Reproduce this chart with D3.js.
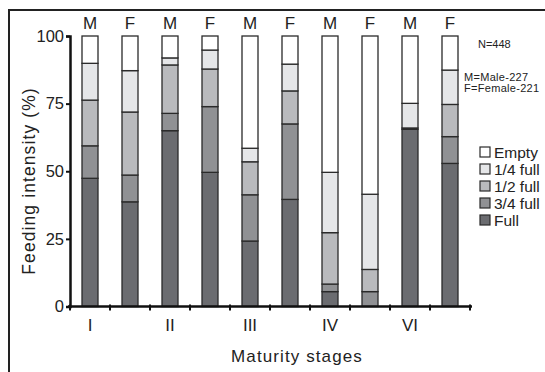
<!DOCTYPE html>
<html><head><meta charset="utf-8">
<script src="https://cdn.jsdelivr.net/npm/d3@7"></script>
<style>body{margin:0;background:#fff}svg{display:block;font-family:Arial,"Liberation Sans",sans-serif}</style>
</head><body><svg id="c" width="545" height="372"></svg>
<script>
const bars = ["I-M","I-F","II-M","II-F","III-M","III-F","IV-M","IV-F","VI-M","VI-F"];
const sexLabels = ["M","F","M","F","M","F","M","F","M","F"];
const stageLabels = ["I","","II","","III","","IV","","VI",""];
const categories = ["Full","3/4 full","1/2 full","1/4 full","Empty"];
const full     = [47.4, 38.7, 65.0, 49.6, 24.2, 39.6, 5.5, 0.0, 65.5, 52.9];
const threeQ   = [12.0,  9.9,  6.4, 24.3, 17.1, 27.9, 2.8, 5.5,  0.5,  9.9];
const half     = [16.9, 23.3, 17.9, 13.9, 12.2, 12.2, 19.0, 8.2, 0.0, 11.9];
const quarter  = [13.6, 15.3,  2.6,  7.0,  5.0,  9.9, 22.3, 27.8, 9.1, 12.7];
const empty    = [10.1, 12.8,  8.1,  5.2, 41.5, 10.4, 50.4, 58.5, 24.9, 12.6];
const yTicks = [0, 25, 50, 75, 100];
const colors = ["#6b6c70","#909194","#b9babd","#e5e6e8","#ffffff"];
const legendOrder = ["Empty","1/4 full","1/2 full","3/4 full","Full"];

const svg = d3.select("#c");
const series = [full, threeQ, half, quarter, empty];
const rows = bars.map((b,i)=>{const o={bar:b}; categories.forEach((c,k)=>o[c]=series[k][i]); return o;});
const stack = d3.stack().keys(categories)(rows);

const x = d3.scaleBand().domain(bars).range([70,470]);
const y = d3.scaleLinear().domain([0,100]).range([306.5,36]);
const color = d3.scaleOrdinal().domain(categories).range(colors);
const bw = 16;

// frame
svg.append("path").attr("d","M9,372 V10 H545").attr("fill","none").attr("stroke","#222").attr("stroke-width",2);

// bars
svg.append("g").selectAll("g").data(stack).join("g")
  .attr("fill",d=>color(d.key))
  .selectAll("rect").data(d=>d).join("rect")
  .attr("x",d=>x(d.data.bar)+x.bandwidth()/2-bw/2)
  .attr("width",bw)
  .attr("y",d=>y(d[1]))
  .attr("height",d=>y(d[0])-y(d[1]))
  .attr("stroke","#2a2a2a").attr("stroke-width",1.3);

// y axis
const ya = svg.append("g").attr("transform","translate(70,0)")
  .call(d3.axisLeft(y).tickValues(yTicks).tickSize(4).tickPadding(2));
ya.select(".domain").attr("stroke","#111").attr("stroke-width",2.5);
ya.selectAll(".tick line").attr("stroke","#111").attr("stroke-width",2);
ya.selectAll("text").attr("font-size",16.5).attr("fill","#222").attr("font-family","Arial,'Liberation Sans',sans-serif");

// x axis line with ticks at band edges
const xa = svg.append("g");
xa.append("line").attr("x1",68).attr("x2",472).attr("y1",y(0)).attr("y2",y(0)).attr("stroke","#111").attr("stroke-width",2.5);
const edges = bars.map(b=>x(b)).concat([x.range()[1]]);
xa.selectAll("line.t").data(edges).join("line").attr("class","t")
  .attr("x1",d=>d).attr("x2",d=>d).attr("y1",y(0)-2).attr("y2",y(0)+4).attr("stroke","#111").attr("stroke-width",2);

// stage labels
svg.append("g").selectAll("text").data(bars).join("text")
  .attr("x",d=>x(d)+x.bandwidth()/2).attr("y",331)
  .attr("text-anchor","middle").attr("font-size",17).attr("fill","#222")
  .text((d,i)=>stageLabels[i]);

// sex labels
svg.append("g").selectAll("text").data(bars).join("text")
  .attr("x",d=>x(d)+x.bandwidth()/2).attr("y",29)
  .attr("text-anchor","middle").attr("font-size",17).attr("fill","#222")
  .text((d,i)=>sexLabels[i]);

// axis titles
svg.append("text").attr("x",297).attr("y",362).attr("text-anchor","middle").attr("font-size",17).attr("letter-spacing",1.1).attr("fill","#222").text("Maturity stages");
svg.append("text").attr("transform","translate(35,181) rotate(-90)").attr("text-anchor","middle").attr("font-size",17.5).attr("letter-spacing",1.1).attr("fill","#222").text("Feeding intensity (%)");

// notes
svg.append("text").attr("x",478).attr("y",48).attr("font-size",11).attr("fill","#222").text("N=448");
svg.append("text").attr("x",464).attr("y",81).attr("font-size",11).attr("letter-spacing",0.3).attr("fill","#222").text("M=Male-227");
svg.append("text").attr("x",464).attr("y",92).attr("font-size",11).attr("letter-spacing",0.3).attr("fill","#222").text("F=Female-221");

// legend
const lg = svg.append("g").selectAll("g").data(legendOrder).join("g")
  .attr("transform",(d,i)=>`translate(480,${152+i*17})`);
lg.append("rect").attr("x",0).attr("y",-5).attr("width",10).attr("height",10)
  .attr("fill",d=>color(d)).attr("stroke","#2a2a2a").attr("stroke-width",1.2);
lg.append("text").attr("x",14).attr("y",5.5).attr("font-size",15.5).attr("fill","#222").text(d=>d);
</script></body></html>
